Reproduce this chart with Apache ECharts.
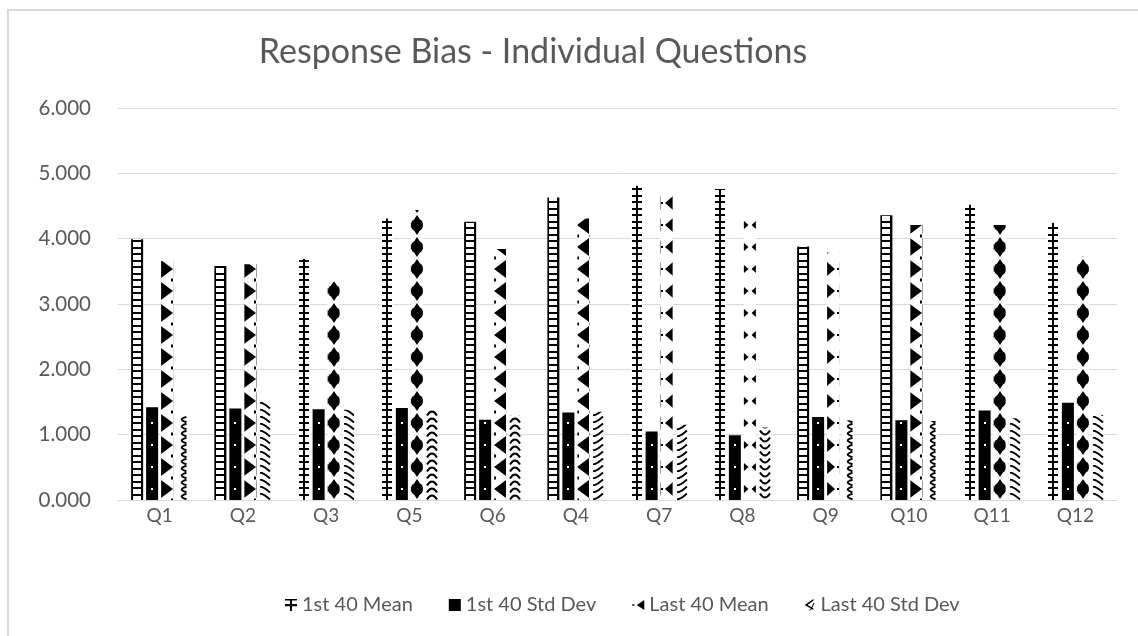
<!DOCTYPE html>
<html>
<head>
<meta charset="utf-8">
<script src="https://cdn.jsdelivr.net/npm/echarts@6/dist/echarts.min.js"></script>
<style>
html,body{margin:0;padding:0;background:#fff;}
#chart{width:1138px;height:636px;}
</style>
</head>
<body>
<div id="chart"></div>
<script>
// ---- data ----
const categories = ['Q1','Q2','Q3','Q5','Q6','Q4','Q7','Q8','Q9','Q10','Q11','Q12'];
const first40Mean = [3.99, 3.58, 3.69, 4.31, 4.26, 4.63, 4.81, 4.76, 3.88, 4.36, 4.52, 4.24];
const first40Std  = [1.42, 1.40, 1.39, 1.41, 1.23, 1.34, 1.05, 0.99, 1.27, 1.22, 1.37, 1.49];
const last40Mean  = [3.66, 3.61, 3.34, 4.44, 3.84, 4.31, 4.71, 4.48, 3.79, 4.21, 4.21, 3.73];
const last40Std   = [1.28, 1.50, 1.38, 1.39, 1.29, 1.35, 1.15, 1.11, 1.22, 1.21, 1.25, 1.30];
const seriesNames = ['1st 40 Mean', '1st 40 Std Dev', 'Last 40 Mean', 'Last 40 Std Dev'];
const titleText = 'Response Bias - Individual Questions';

// ---- styles (patterns per bar) ----
const patternKinds = [
  ['ladder','ladder','plus','plus','ladder','ladder','plus','plus','ladder','ladder','plus','plus'],
  ['dot','dot','dot','dot','dot','dot','dot','dot','dot','dot','dot','dot'],
  ['triR','triR','circ','circ','triL','triL','triLD','bow','triRD','triR','circ','circ'],
  ['chev','diagB','diagB','arc','arc','diagF','diagF','cup','chev','chev','diagB','diagB']
];
const legendKinds = ['plus','solid','triLD','chev'];
const legendIcons = [
  'path://M0,0h12v1.6h-12z M0,5h12v2.2h-12z M5,0h2v12h-2z',
  'rect',
  'path://M0,5.2h2v1.6h-2z M12,1L12,11L4.5,6z',
  'path://M11,1L3,6.5L11,11L11,9.4L5.6,6.5L11,2.6z M6.5,12L9,10.8L12,5L11,4.6L8.7,9.6z'
];

function makeTile(kind){
  const W = 12;
  const H = {ladder:13, plus:13, dot:22, solid:4, triR:22, triL:22, circ:22, triLD:22, bow:22, triRD:22,
             chev:7, arc:7, diagB:7, diagF:7, cup:7}[kind];
  const c = document.createElement('canvas');
  c.width = W; c.height = H;
  const g = c.getContext('2d');
  g.fillStyle = '#fff'; g.fillRect(0,0,W,H);
  g.fillStyle = '#000'; g.strokeStyle = '#000';
  const tri = (p) => { g.beginPath(); g.moveTo(p[0][0],p[0][1]); g.lineTo(p[1][0],p[1][1]); g.lineTo(p[2][0],p[2][1]); g.closePath(); g.fill(); };
  switch(kind){
    case 'ladder': g.fillRect(0,0,2,H); g.fillRect(10,0,2,H); g.fillRect(0,0,12,2); g.fillRect(0,7,12,2); break;
    case 'plus': g.fillRect(5,0,2,H); g.fillRect(1,0,10,2); g.fillRect(1,7,10,2); break;
    case 'dot': g.fillRect(0,0,W,H); g.fillStyle='#fff'; g.fillRect(5,10,2,2); break;
    case 'solid': g.fillRect(0,0,W,H); break;
    case 'triR': tri([[0,2],[0,20],[12,11]]); g.fillRect(10,0,2,1.5); g.fillRect(10,20.5,2,1.5); break;
    case 'triL': tri([[12,2],[12,20],[0,11]]); g.fillRect(0,0,2,1.5); g.fillRect(0,20.5,2,1.5); break;
    case 'circ':
      g.beginPath(); g.arc(6,11,6.2,0,Math.PI*2); g.fill();
      tri([[6,1],[1.5,8],[10.5,8]]); tri([[6,21],[1.5,14],[10.5,14]]); break;
    case 'triLD': tri([[12,4],[12,18],[4,11]]); g.fillRect(0,10,2,2); break;
    case 'bow': tri([[0,7],[0,15],[4.5,11]]); tri([[12,7],[12,15],[7.5,11]]); break;
    case 'triRD': tri([[0,4],[0,18],[8,11]]); g.fillRect(10,10,2,2); break;
    case 'chev': g.lineWidth=2; g.beginPath(); g.moveTo(10.5,0.8); g.quadraticCurveTo(1,3.5,10.5,6.2); g.stroke(); break;
    case 'arc': g.lineWidth=2; g.beginPath(); g.moveTo(1,6.5); g.quadraticCurveTo(6,-1.5,11,6.5); g.stroke(); break;
    case 'diagB': g.lineWidth=2; g.beginPath(); g.moveTo(1,0.5); g.quadraticCurveTo(5,1,11,6.5); g.stroke(); break;
    case 'diagF': g.lineWidth=2; g.beginPath(); g.moveTo(1,6.5); g.quadraticCurveTo(5,6,11,0.5); g.stroke(); break;
    case 'cup': g.lineWidth=2; g.beginPath(); g.moveTo(1,0.5); g.quadraticCurveTo(6,8.5,11,0.5); g.stroke(); break;
  }
  return c;
}
const tileCache = {};
function tile(kind){ return tileCache[kind] || (tileCache[kind] = makeTile(kind)); }

const seriesValues = [first40Mean, first40Std, last40Mean, last40Std];
const FONT = 'Lato, "Open Sans", sans-serif';
const TXT = '#595959';

const chart = echarts.init(document.getElementById('chart'), null, {renderer:'canvas'});

const baseOption = {
  animation: false,
  backgroundColor: '#fff',
  textStyle: {fontFamily: FONT},
  title: {
    text: titleText, left: 528, top: 30, textAlign: 'center',
    textStyle: {fontFamily: FONT, fontSize: 34, fontWeight: 'normal', color: TXT}
  },
  graphic: [{
    type: 'rect', z: -10, silent: true,
    shape: {x: 8, y: 10, width: 1300, height: 800},
    style: {fill: 'none', stroke: '#d9d9d9', lineWidth: 2}
  }],
  grid: {left: 118, right: 21, top: 108, bottom: 136, containLabel: false},
  legend: {
    bottom: 16, left: 280, itemWidth: 12, itemHeight: 12, itemGap: 36,
    textStyle: {fontFamily: FONT, fontSize: 20, color: TXT},
    data: seriesNames.map((n, s) => ({name: n, icon: legendIcons[s],
      itemStyle: {color: '#000', borderWidth: 0}}))
  },
  xAxis: {
    type: 'category', data: categories,
    axisLine: {lineStyle: {color: '#d9d9d9', width: 1}},
    axisTick: {show: false},
    axisLabel: {fontFamily: FONT, fontSize: 19, color: TXT, margin: 6}
  },
  yAxis: {
    type: 'value', min: 0, max: 6, interval: 1,
    axisLine: {show: false}, axisTick: {show: false},
    splitLine: {lineStyle: {color: '#d9d9d9', width: 1}},
    axisLabel: {fontFamily: FONT, fontSize: 20.5, color: TXT, margin: 27,
      formatter: v => v.toFixed(3)}
  },
  series: seriesNames.map((n, s) => ({
    name: n, type: 'bar', barWidth: 12, barGap: '25%',
    itemStyle: {color: {image: tile(legendKinds[s]), repeat: 'repeat'}},
    data: seriesValues[s].slice()
  }))
};
chart.setOption(baseOption);

// second pass: anchor each bar's fill pattern to the bar itself
const model = chart.getModel();
const patterned = seriesNames.map((n, s) => {
  const d = model.getSeriesByIndex(s).getData();
  return {
    data: seriesValues[s].map((v, i) => {
      const L = d.getItemLayout(i);
      const bottom = Math.max(L.y, L.y + L.height);
      const left = Math.min(L.x, L.x + L.width);
      return {value: v, itemStyle: {color: {image: tile(patternKinds[s][i]), repeat: 'repeat', x: Math.round(left), y: Math.round(bottom)}}};
    })
  };
});
chart.setOption({series: patterned});
</script>
</body>
</html>
